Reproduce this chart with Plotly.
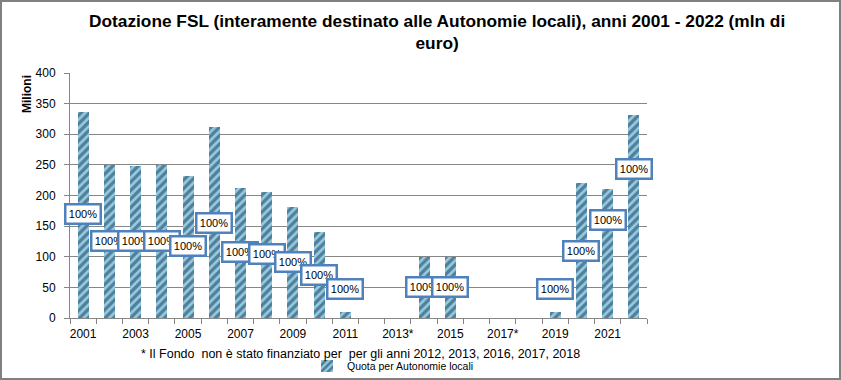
import plotly.graph_objects as go

# ---------------- data ----------------
years = [str(y) for y in range(2001, 2023)]
values = [336, 250, 248, 250, 232, 312, 212, 205, 181, 141, 10,
          0, 0, 100, 100, 0, 0, 0, 10, 220, 210, 331]
share_labels = ["100%", "100%", "100%", "100%", "100%", "100%", "100%", "100%",
                "100%", "100%", "100%", None, None, "100%", "100%", None, None,
                None, "100%", "100%", "100%", "100%"]
label_y = [170, 125, 126, 126, 117, 155, 107, 104, 92, 71, 47,
           None, None, 51, 51, None, None, None, 47, 110, 160, 243]
tick_years = ["2001", "2003", "2005", "2007", "2009", "2011", "2013", "2015",
              "2017", "2019", "2021"]
tick_text = ["2001", "2003", "2005", "2007", "2009", "2011", "2013*", "2015",
             "2017*", "2019", "2021"]
series_name = "Quota per Autonomie locali"
title_text = ("Dotazione FSL (interamente destinato alle Autonomie locali), anni 2001 - 2022 (mln di"
              "<br>euro)")
footnote = "* Il Fondo  non è stato finanziato per  per gli anni 2012, 2013, 2016, 2017, 2018"
y_title = "Milioni"

# ---------------- layout geometry ----------------
W, H = 841, 380
L, R, T, B = 70, 841 - 647, 73, 380 - 318
pw, ph = W - L - R, H - T - B

def px_x(p):
    return (p - L) / pw

def px_y(p):
    return (H - B - p) / ph

FONT = "Liberation Sans"
GREY = "#868686"

xs = list(range(len(years)))

fig = go.Figure()
fig.add_trace(go.Bar(
    x=xs, y=values, name=series_name, width=0.42,
    marker=dict(color="#93CDDD", line=dict(width=0),
                pattern=dict(shape="/", fgcolor="#132D5E", size=6,
                             solidity=0.55, fillmode="overlay")),
    hoverinfo="skip",
))

annotations = []
for i, (t, ly) in enumerate(zip(share_labels, label_y)):
    if t is None:
        continue
    annotations.append(dict(
        x=xs[i], y=ly, xref="x", yref="y", text=t, showarrow=False,
        font=dict(family=FONT, size=11, color="#000000"),
        bgcolor="#FFFFFF", bordercolor="#4F81BD", borderwidth=2.5,
        borderpad=1, width=31, height=15,
    ))

annotations.append(dict(
    x=px_x(437), y=px_y(9), xref="paper", yref="paper", text="<b>" + title_text + "</b>",
    showarrow=False, xanchor="center", yanchor="top",
    font=dict(family=FONT, size=17.3, color="#000000"),
))
annotations.append(dict(
    x=px_x(27), y=px_y(94), xref="paper", yref="paper", text="<b>" + y_title + "</b>",
    showarrow=False, textangle=-90, xanchor="center", yanchor="middle",
    font=dict(family=FONT, size=12, color="#000000"),
))
annotations.append(dict(
    x=px_x(360), y=px_y(354), xref="paper", yref="paper", text=footnote,
    showarrow=False, xanchor="center", yanchor="middle",
    font=dict(family=FONT, size=12.5, color="#000000"),
))

tickvals = [years.index(y) for y in tick_years]

fig.update_layout(
    width=W, height=H, autosize=False,
    margin=dict(l=L, r=R, t=T, b=B, pad=0, autoexpand=False),
    paper_bgcolor="#FFFFFF", plot_bgcolor="#FFFFFF",
    font=dict(family=FONT, size=12, color="#000000"),
    showlegend=True,
    legend=dict(orientation="h", x=px_x(307), y=px_y(366), xanchor="left",
                yanchor="middle", bgcolor="rgba(0,0,0,0)",
                font=dict(family=FONT, size=10.5, color="#000000")),
    bargap=0,
    annotations=annotations,
    shapes=[dict(type="rect", xref="paper", yref="paper",
                 x0=px_x(1), x1=px_x(840), y0=px_y(379), y1=px_y(1),
                 line=dict(color="#808080", width=2), layer="above")],
    xaxis=dict(
        range=[-0.5, len(years) - 0.5], tickvals=tickvals, ticktext=tick_text,
        ticks="", showgrid=False, zeroline=False, showline=True,
        linecolor=GREY, linewidth=1, ticklabelstandoff=5,
        tickfont=dict(family=FONT, size=12, color="#000000"),
        minor=dict(tick0=-0.5, dtick=1, ticks="outside", ticklen=5,
                   tickcolor=GREY, tickwidth=1, showgrid=False),
    ),
    yaxis=dict(
        range=[0, 400], dtick=50, ticks="outside", ticklen=5, tickcolor=GREY,
        showgrid=True, gridcolor=GREY, gridwidth=1, zeroline=False,
        showline=True, linecolor=GREY, linewidth=1, ticklabelstandoff=6,
        tickfont=dict(family=FONT, size=12, color="#000000"),
    ),
)

fig.write_html("out.html",
               config={"displayModeBar": False, "responsive": False},
               post_script="document.body.style.margin='0';document.body.style.overflow='hidden';")
